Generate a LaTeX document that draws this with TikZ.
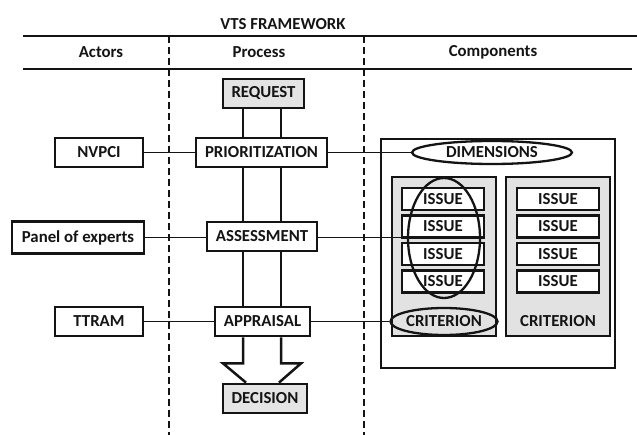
\documentclass[tikz,border=0pt]{standalone}
\usepackage{fontspec}
\setmainfont{Carlito}
\usetikzlibrary{shapes.geometric}
\definecolor{boxgray}{RGB}{228,228,228}
\definecolor{panelgray}{RGB}{226,226,226}
\definecolor{ink}{RGB}{20,20,20}
\tikzset{
  lbl/.style={font=\fontsize{16.8}{19}\selectfont\bfseries, text=ink, inner sep=0pt},
  pbox/.style={lbl, draw=ink, line width=2.8pt, fill=white, minimum height=29pt},
  gbox/.style={pbox, fill=boxgray},
  issuebox/.style={lbl, draw=ink, line width=2.7pt, fill=white, minimum width=82pt, minimum height=22pt},
  panel/.style={draw=ink, line width=2.3pt, fill=panelgray, minimum width=104pt, minimum height=159pt, inner sep=0pt},
  ring/.style={lbl, ellipse, draw=ink, line width=2.3pt, inner sep=0pt},
  conn/.style={draw=ink, line width=1.9pt},
  rail/.style={draw=ink, line width=2.5pt},
  rule/.style={draw=ink, line width=2.8pt},
  divider/.style={draw=ink, line width=2pt, dash pattern=on 7pt off 4pt},
}
\begin{document}
\begin{tikzpicture}[x=1pt,y=-1pt]
\useasboundingbox (0,0) rectangle (637,435);
% title and header
\node[lbl] (title) at (283,24) {VTS FRAMEWORK};
\coordinate (rtl) at (23,36); \coordinate (rtr) at (637,36);
\coordinate (rbl) at (23,69); \coordinate (rbr) at (632,69);
\draw[rule] (rtl) -- (rtr);
\draw[rule] (rbl) -- (rbr);
\node[lbl] (hact) at (101,52) {Actors};
\node[lbl] (hpro) at (259,52) {Process};
\node[lbl] (hcom) at (493,52) {Components};
\coordinate (d1t) at (169,36); \coordinate (d1b) at (169,435);
\coordinate (d2t) at (364,36); \coordinate (d2b) at (364,435);
\draw[divider] (d1t) -- (d1b);
\draw[divider] (d2t) -- (d2b);

% components frame (behind)
\node[draw=ink, line width=2.3pt, minimum width=234pt, minimum height=229pt, inner sep=0pt] (comp) at (498,253.5) {};
\node[panel] (lpanel) at (444,256.5) {};
\node[panel] (rpanel) at (558,256.5) {};
\node[issuebox] (li1) at (443,199) {ISSUE};
\node[issuebox] (li2) at (443,226.5) {ISSUE};
\node[issuebox] (li3) at (443,254) {ISSUE};
\node[issuebox] (li4) at (443,281.5) {ISSUE};
\node[issuebox] (ri1) at (558,199) {ISSUE};
\node[issuebox] (ri2) at (558,226.5) {ISSUE};
\node[issuebox] (ri3) at (558,254) {ISSUE};
\node[issuebox] (ri4) at (558,281.5) {ISSUE};
\node[ring, minimum width=72pt, minimum height=120pt] (issring) at (444,238) {};
\node[ring, minimum width=102pt, minimum height=27pt] (lcrit) at (444,321.5) {CRITERION};
\node[lbl] (rcrit) at (558,321.5) {CRITERION};
\node[ring, fill=white, minimum width=160pt, minimum height=23pt] (dim) at (492,152.5) {DIMENSIONS};

% process
\node[gbox, minimum width=81pt] (req) at (263.5,93.5) {REQUEST};
\node[pbox, minimum width=131pt] (prio) at (261.5,152.5) {PRIORITIZATION};
\node[pbox, minimum width=110pt] (asse) at (262,236.5) {ASSESSMENT};
\node[pbox, minimum width=95pt] (appr) at (262.5,321.5) {APPRAISAL};
\node[gbox, minimum width=84pt] (deci) at (265,398.5) {DECISION};

% actors
\node[pbox, minimum width=88pt] (nvpci) at (99,152.5) {NVPCI};
\node[pbox, minimum width=132pt, minimum height=32pt] (panel) at (78,237.5) {Panel of experts};
\node[pbox, minimum width=88pt] (ttram) at (99,321.5) {TTRAM};

% connectors
\draw[conn] (nvpci.east) -- (nvpci.east -| prio.west);
\draw[conn] (prio.east) -- (prio.east -| dim.west);
\draw[conn] (panel.east) -- (panel.east -| asse.west);
\draw[conn] (asse.east |- panel.east) -- (panel.east -| issring.west);
\draw[conn] (ttram.east) -- (ttram.east -| appr.west);
\draw[conn] (appr.east) -- (appr.east -| lcrit.west);

\coordinate (cl) at (243,0); \coordinate (cr) at (281,0);
\coordinate (al) at (246,0); \coordinate (ar) at (279,0);
\draw[rail] (req.south -| cl) -- (prio.north -| cl);
\draw[rail] (req.south -| cr) -- (prio.north -| cr);
\draw[rail] (prio.south -| cl) -- (asse.north -| cl);
\draw[rail] (prio.south -| cr) -- (asse.north -| cr);
\draw[rail] (asse.south -| cl) -- (appr.north -| cl);
\draw[rail] (asse.south -| cr) -- (appr.north -| cr);
\draw[rail, line join=miter] (appr.south -| cl) -- ++(0,26) -- ++(-20,0) -- (deci.north -| al);
\draw[rail, line join=miter] (appr.south -| cr) -- ++(0,26) -- ++(20,0) -- (deci.north -| ar);
\end{tikzpicture}
\end{document}
